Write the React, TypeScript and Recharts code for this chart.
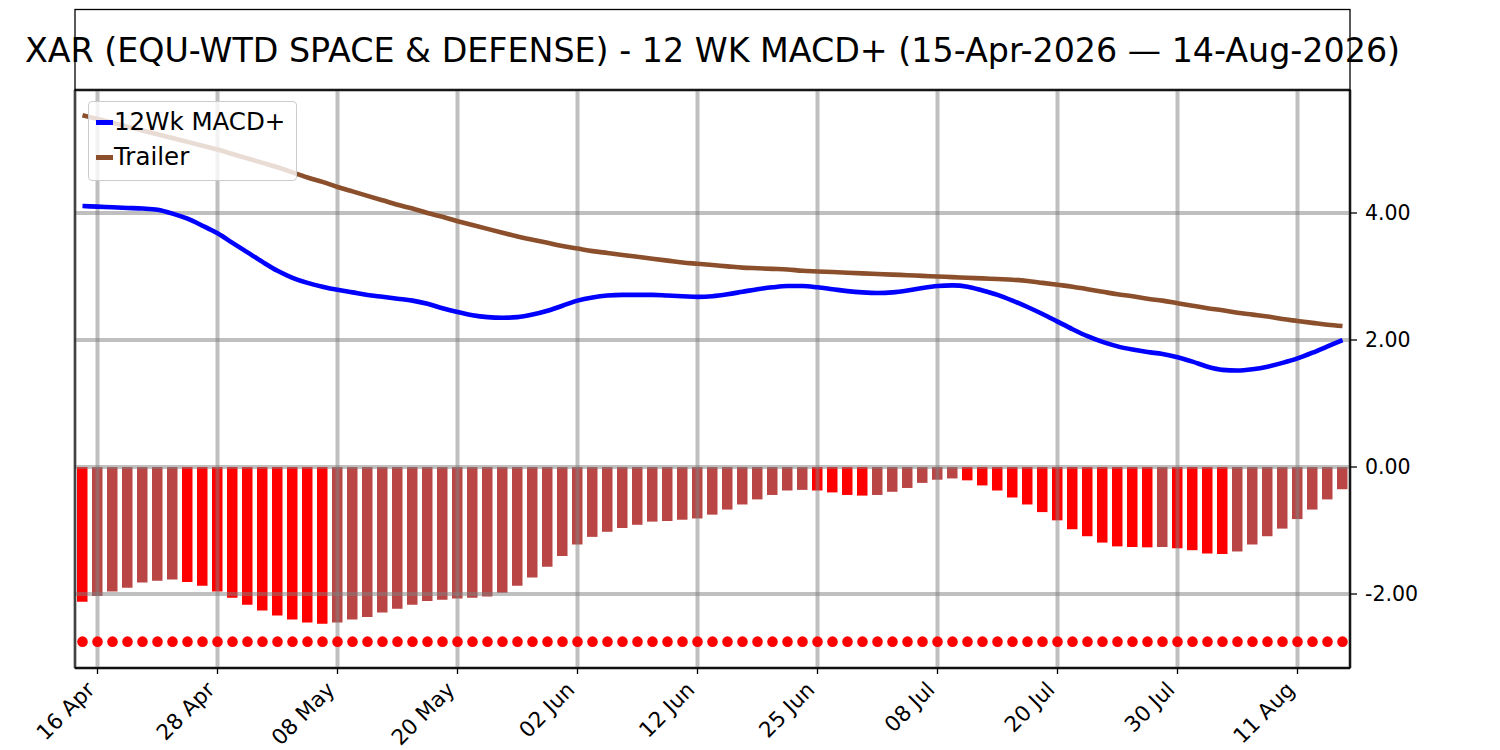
import React from 'react';
import { ComposedChart, Bar, Line, Scatter, XAxis, YAxis, CartesianGrid, Cell, Legend } from 'recharts';

const titleText = 'XAR (EQU-WTD SPACE & DEFENSE) - 12 WK MACD+ (15-Apr-2026 \u2014 14-Aug-2026)';

const dates = [
  '15 Apr', '16 Apr', '17 Apr', '20 Apr', '21 Apr', '22 Apr', '23 Apr', '24 Apr', '27 Apr', '28 Apr', '29 Apr', '30 Apr',
  '01 May', '04 May', '05 May', '06 May', '07 May', '08 May', '11 May', '12 May', '13 May', '14 May', '15 May', '18 May',
  '19 May', '20 May', '21 May', '22 May', '26 May', '27 May', '28 May', '29 May',
  '01 Jun', '02 Jun', '03 Jun', '04 Jun', '05 Jun', '08 Jun', '09 Jun', '10 Jun', '11 Jun', '12 Jun', '15 Jun', '16 Jun',
  '17 Jun', '18 Jun', '22 Jun', '23 Jun', '24 Jun', '25 Jun', '26 Jun', '29 Jun', '30 Jun',
  '01 Jul', '02 Jul', '06 Jul', '07 Jul', '08 Jul', '09 Jul', '10 Jul', '13 Jul', '14 Jul', '15 Jul', '16 Jul', '17 Jul',
  '20 Jul', '21 Jul', '22 Jul', '23 Jul', '24 Jul', '27 Jul', '28 Jul', '29 Jul', '30 Jul', '31 Jul',
  '03 Aug', '04 Aug', '05 Aug', '06 Aug', '07 Aug', '10 Aug', '11 Aug', '12 Aug', '13 Aug', '14 Aug',
];

const xTicks = ['16 Apr', '28 Apr', '08 May', '20 May', '02 Jun', '12 Jun', '25 Jun', '08 Jul', '20 Jul', '30 Jul', '11 Aug'];
const yTicks = [-2, 0, 2, 4];

const macd = [
  4.11, 4.10, 4.09, 4.08, 4.07, 4.05, 3.99, 3.91, 3.80, 3.68,
  3.53, 3.38, 3.23, 3.09, 2.98, 2.90, 2.84, 2.79, 2.75, 2.71,
  2.68, 2.65, 2.62, 2.57, 2.50, 2.44, 2.39, 2.36, 2.35, 2.36,
  2.40, 2.46, 2.54, 2.62, 2.67, 2.70, 2.71, 2.71, 2.71, 2.70,
  2.69, 2.68, 2.69, 2.72, 2.76, 2.80, 2.83, 2.85, 2.85, 2.83,
  2.80, 2.77, 2.75, 2.74, 2.75, 2.78, 2.82, 2.85, 2.86, 2.84,
  2.78, 2.71, 2.62, 2.52, 2.41, 2.29, 2.17, 2.06, 1.97, 1.90,
  1.85, 1.81, 1.78, 1.73, 1.66, 1.58, 1.53, 1.52, 1.54, 1.58,
  1.64, 1.71, 1.80, 1.90, 2.00,
];

const trailer = [
  5.54, 5.48, 5.42, 5.36, 5.30, 5.24, 5.18, 5.12, 5.06, 5.00,
  4.93, 4.86, 4.79, 4.72, 4.64, 4.56, 4.49, 4.41, 4.34, 4.27,
  4.20, 4.13, 4.07, 4.00, 3.94, 3.87, 3.81, 3.75, 3.69, 3.63,
  3.58, 3.53, 3.48, 3.44, 3.40, 3.37, 3.34, 3.31, 3.28, 3.25,
  3.22, 3.20, 3.18, 3.16, 3.14, 3.13, 3.12, 3.11, 3.09, 3.08,
  3.07, 3.06, 3.05, 3.04, 3.03, 3.02, 3.01, 3.00, 2.99, 2.98,
  2.97, 2.96, 2.95, 2.93, 2.90, 2.87, 2.84, 2.80, 2.76, 2.72,
  2.69, 2.65, 2.62, 2.58, 2.54, 2.50, 2.47, 2.43, 2.40, 2.37,
  2.33, 2.30, 2.27, 2.24, 2.22,
];

const hist = [
  -2.12, -2.03, -1.96, -1.90, -1.82, -1.79, -1.77, -1.81, -1.87, -1.96,
  -2.06, -2.17, -2.26, -2.34, -2.40, -2.45, -2.47, -2.45, -2.40, -2.36,
  -2.29, -2.23, -2.17, -2.11, -2.09, -2.07, -2.06, -2.04, -1.98, -1.87,
  -1.74, -1.57, -1.40, -1.22, -1.10, -1.02, -0.96, -0.91, -0.86, -0.85,
  -0.83, -0.81, -0.75, -0.67, -0.59, -0.51, -0.44, -0.37, -0.36, -0.37,
  -0.40, -0.44, -0.45, -0.44, -0.39, -0.33, -0.25, -0.20, -0.18, -0.21,
  -0.29, -0.37, -0.48, -0.59, -0.71, -0.84, -0.98, -1.09, -1.19, -1.25,
  -1.26, -1.265, -1.26, -1.28, -1.31, -1.36, -1.37, -1.33, -1.22, -1.09,
  -0.97, -0.82, -0.67, -0.51, -0.35,
];

const dotLevel = -2.75;

const legendItems = [
  { label: '12Wk MACD+', color: '#0000ff' },
  { label: 'Trailer', color: '#8b4f2c' },
];

const data = dates.map((d, i) => ({ date: d, macd: macd[i], trailer: trailer[i], hist: hist[i], dot: dotLevel }));

const W = 1500;
const H = 750;
const PLOT = { left: 75, top: 90, right: 1350, bottom: 668 };
const Y_AXIS_W = 70;
const X_AXIS_H = 80;
const FONT = '"DejaVu Sans", sans-serif';
const RED = '#ff0000';
const BROWN = '#ba4545';

const XTick = (props: any) => {
  const { x, y, payload } = props;
  const ax = x - 1.5;
  const ay = y + 15;
  return (
    <text x={ax} y={ay} transform={`rotate(-45, ${ax}, ${ay})`} textAnchor="end" fontSize={21.5} fontFamily={FONT} fill="#000">
      {payload.value}
    </text>
  );
};

const Dot = (props: any) => {
  const { cx, cy } = props;
  if (cx == null || cy == null) return null;
  return <circle cx={cx} cy={cy} r={5.3} fill={RED} />;
};

const renderLegend = () => (
  <div
    style={{
      width: 209,
      height: 80,
      boxSizing: 'border-box',
      border: '1.3px solid #cccccc',
      borderRadius: 4,
      background: 'rgba(255,255,255,0.8)',
      fontFamily: FONT,
      fontSize: 24.5,
      color: '#000',
      position: 'relative',
    }}
  >
    {legendItems.map((it, k) => (
      <div key={it.label} style={{ position: 'absolute', left: 0, top: 3 + k * 35, height: 35, display: 'flex', alignItems: 'center', whiteSpace: 'nowrap' }}>
        <span style={{ display: 'inline-block', marginLeft: 7, width: 17, height: 4.7, background: it.color }} />
        <span style={{ marginLeft: 1, lineHeight: '1' }}>{it.label}</span>
      </div>
    ))}
  </div>
);

export default function App() {
  return (
    <div style={{ position: 'absolute', left: 0, top: 0, width: W, height: H, background: '#fff' }}>
      <ComposedChart
        width={W}
        height={H}
        data={data}
        margin={{ top: PLOT.top, left: PLOT.left, right: W - PLOT.right - Y_AXIS_W, bottom: H - PLOT.bottom - X_AXIS_H }}
      >
        <XAxis
          dataKey="date"
          ticks={xTicks}
          interval={0}
          height={X_AXIS_H}
          tick={<XTick />}
          tickSize={6}
          tickLine={{ stroke: '#000', strokeWidth: 1.3 }}
          axisLine={{ stroke: '#000', strokeWidth: 1.3 }}
        />
        <YAxis
          orientation="right"
          width={Y_AXIS_W}
          type="number"
          domain={[-3.165, 5.937]}
          ticks={yTicks}
          allowDataOverflow
          tickFormatter={(v: number) => v.toFixed(2)}
          tick={{ fontSize: 20.5, fill: '#000', fontFamily: FONT }}
          tickSize={7}
          tickMargin={8}
          tickLine={{ stroke: '#000', strokeWidth: 1.3 }}
          axisLine={{ stroke: '#000', strokeWidth: 1.3 }}
        />
        <Bar dataKey="hist" barSize={10.5} isAnimationActive={false}>
          {hist.map((v, i) => (
            <Cell key={i} fill={i === 0 || v < hist[i - 1] ? RED : BROWN} />
          ))}
        </Bar>
        <CartesianGrid stroke="#808080" strokeOpacity={0.5} strokeWidth={4} {...({ zIndex: 350 } as any)} />
        <Scatter dataKey="dot" shape={<Dot />} isAnimationActive={false} legendType="none" />
        <Line dataKey="trailer" type="monotone" stroke="#8b4f2c" strokeWidth={4.6} dot={false} isAnimationActive={false} />
        <Line dataKey="macd" type="monotone" stroke="#0000ff" strokeWidth={4.6} dot={false} isAnimationActive={false} />
        <Legend
          content={renderLegend}
          layout="horizontal"
          verticalAlign="middle"
          align="center"
          wrapperStyle={{ position: 'absolute', left: 88, top: 101, width: 209, height: 80 }}
        />
      </ComposedChart>
      <svg width={W} height={H} style={{ position: 'absolute', left: 0, top: 0, pointerEvents: 'none' }}>
        <rect x={PLOT.left} y={PLOT.top} width={PLOT.right - PLOT.left} height={PLOT.bottom - PLOT.top} fill="none" stroke="#000" strokeWidth={1.3} />
        <rect x={PLOT.left} y={9.5} width={PLOT.right - PLOT.left} height={PLOT.top - 9.5} fill="none" stroke="#000" strokeWidth={1.3} />
        <text x={(PLOT.left + PLOT.right) / 2} y={62} textAnchor="middle" fontSize={33.3} fontFamily={FONT} fill="#000">
          {titleText}
        </text>
      </svg>
    </div>
  );
}
